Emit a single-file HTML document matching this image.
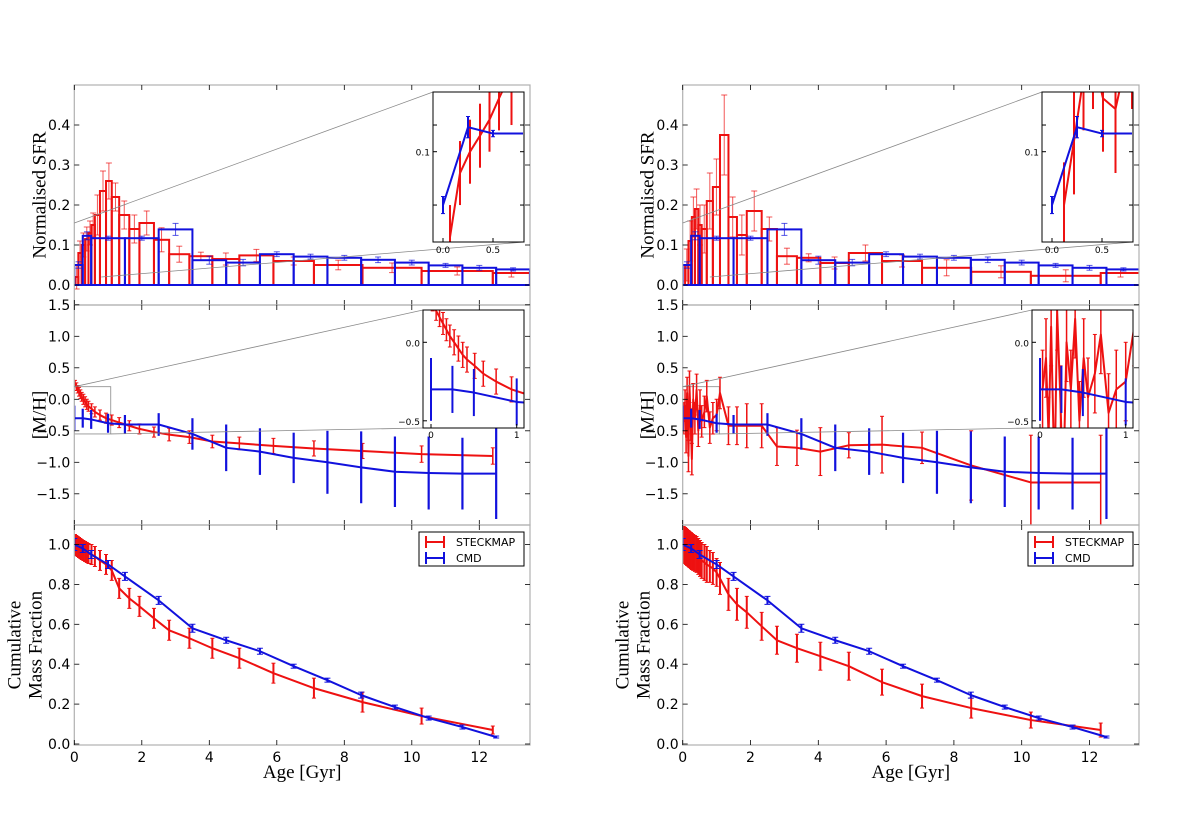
<!DOCTYPE html>
<html><head><meta charset="utf-8"><style>
body{margin:0;background:#fff}
svg{display:block}
text{font-family:"DejaVu Sans","Liberation Sans",sans-serif}
.serif{font-family:"Liberation Serif","DejaVu Serif",serif}
</style></head><body>
<svg id="fig" width="1200" height="829" viewBox="0 0 1200 829" xmlns="http://www.w3.org/2000/svg">
<rect width="1200" height="829" fill="#fff"/>
</svg>
<script>
// ---- shared CMD data ----
const cmdSfrEdges=[0,0.25,0.5,1.5,2.5,3.5,4.5,5.5,6.5,7.5,8.5,9.5,10.5,11.5,12.5,13.5];
const cmdSfrVals=[0.05,0.123,0.117,0.117,0.139,0.062,0.056,0.077,0.071,0.068,0.063,0.056,0.049,0.043,0.039];
const cmdSfrErr=[0.008,0.01,0.005,0.005,0.015,0.01,0.008,0.006,0.006,0.006,0.007,0.006,0.005,0.006,0.004];
const cmdAges=[0,0.25,0.5,1.0,1.5,2.5,3.5,4.5,5.5,6.5,7.5,8.5,9.5,10.5,11.5,12.5];
const cmdMH=[-0.3,-0.3,-0.32,-0.38,-0.4,-0.4,-0.55,-0.77,-0.83,-0.93,-1.0,-1.08,-1.15,-1.17,-1.18,-1.18];
const cmdMHErr=[0.2,0.15,0.15,0.15,0.15,0.18,0.25,0.37,0.37,0.4,0.5,0.57,0.56,0.58,0.57,0.72];
const cmdCum=[1.0,0.98,0.95,0.9,0.84,0.72,0.58,0.52,0.465,0.39,0.32,0.245,0.185,0.13,0.085,0.035];
const cmdCumErr=[0.03,0.02,0.02,0.02,0.02,0.02,0.02,0.015,0.015,0.01,0.01,0.015,0.01,0.01,0.01,0.005];
// ---- left STECKMAP ----
const leftSfrEdges=[0.02,0.12,0.22,0.32,0.42,0.51,0.61,0.76,0.94,1.11,1.33,1.63,1.93,2.36,2.81,3.41,4.09,4.89,5.9,7.1,8.54,10.29,12.4,13.5];
const leftSfrVals=[0.02,0.08,0.1,0.115,0.13,0.15,0.175,0.235,0.26,0.22,0.175,0.14,0.155,0.113,0.077,0.072,0.065,0.074,0.06,0.05,0.043,0.035,0.03];
const leftSfrErr=[0.03,0.03,0.03,0.03,0.03,0.03,0.05,0.05,0.045,0.035,0.035,0.035,0.03,0.03,0.02,0.01,0.015,0.015,0.01,0.012,0.012,0.01,0.01];
const leftAges=[0.02,0.06,0.1,0.14,0.18,0.22,0.27,0.32,0.37,0.42,0.51,0.61,0.76,0.94,1.11,1.33,1.63,1.93,2.36,2.81,3.41,4.09,4.89,5.9,7.1,8.54,10.29,12.4];
const leftMH=[0.25,0.2,0.16,0.12,0.08,0.04,0.0,-0.04,-0.08,-0.11,-0.15,-0.2,-0.25,-0.3,-0.33,-0.37,-0.42,-0.47,-0.52,-0.56,-0.6,-0.67,-0.7,-0.74,-0.78,-0.82,-0.87,-0.9];
const leftMHErr=[0.05,0.06,0.06,0.07,0.07,0.07,0.08,0.08,0.08,0.08,0.08,0.08,0.08,0.08,0.08,0.08,0.08,0.08,0.08,0.1,0.1,0.1,0.1,0.12,0.12,0.12,0.13,0.13];
const leftCum=[1.0,0.995,0.99,0.985,0.98,0.975,0.97,0.965,0.96,0.955,0.95,0.94,0.92,0.9,0.87,0.78,0.73,0.69,0.63,0.57,0.53,0.48,0.43,0.355,0.28,0.21,0.14,0.07];
const leftCumErr=[0.05,0.05,0.05,0.05,0.05,0.05,0.05,0.05,0.05,0.05,0.05,0.05,0.05,0.05,0.05,0.05,0.05,0.05,0.05,0.05,0.05,0.05,0.05,0.05,0.05,0.05,0.04,0.02];
// ---- right STECKMAP ----
const rightSfrEdges=[0.07,0.17,0.27,0.36,0.46,0.56,0.71,0.89,1.10,1.35,1.6,1.89,2.33,2.78,3.37,4.06,4.9,5.88,7.06,8.51,10.27,12.33,13.5];
const rightSfrVals=[0.05,0.11,0.17,0.19,0.15,0.14,0.21,0.245,0.375,0.17,0.125,0.185,0.14,0.072,0.068,0.055,0.08,0.06,0.043,0.033,0.023,0.03];
const rightSfrErr=[0.04,0.05,0.05,0.05,0.05,0.06,0.07,0.07,0.1,0.05,0.05,0.05,0.03,0.02,0.01,0.015,0.02,0.015,0.02,0.015,0.015,0.01];
const rightAges=[0.03,0.07,0.1,0.13,0.17,0.2,0.24,0.27,0.31,0.36,0.41,0.46,0.51,0.56,0.64,0.71,0.8,0.89,1.0,1.1,1.35,1.6,1.89,2.33,2.78,3.37,4.06,4.9,5.88,7.06,8.51,10.27,12.33];
const rightMH=[-0.3,-0.1,-0.6,0.1,-0.9,0.2,-0.4,-0.95,0.0,-0.3,0.15,-0.5,-0.1,-0.35,-0.2,0.05,-0.45,-0.3,-0.25,0.1,-0.42,-0.42,-0.42,-0.42,-0.75,-0.77,-0.83,-0.73,-0.72,-0.77,-1.05,-1.32,-1.32];
const rightMHErr=[0.25,0.25,0.25,0.25,0.25,0.25,0.25,0.25,0.25,0.25,0.25,0.25,0.25,0.25,0.25,0.25,0.25,0.25,0.25,0.25,0.3,0.3,0.35,0.35,0.3,0.28,0.38,0.2,0.45,0.25,0.55,0.75,0.75];
const rightCum=[1.0,0.995,0.99,0.985,0.98,0.975,0.97,0.965,0.96,0.955,0.95,0.94,0.93,0.92,0.91,0.9,0.89,0.88,0.86,0.83,0.75,0.7,0.66,0.59,0.52,0.48,0.44,0.39,0.31,0.24,0.18,0.12,0.07];
const rightCumErr=[0.09,0.09,0.09,0.09,0.09,0.09,0.09,0.09,0.09,0.09,0.09,0.09,0.09,0.09,0.09,0.09,0.08,0.08,0.07,0.08,0.08,0.08,0.08,0.07,0.07,0.07,0.07,0.07,0.065,0.06,0.05,0.04,0.035];

const xTicks=[0,2,4,6,8,10,12];
const sfrTicks=[0,0.1,0.2,0.3,0.4];
const mhTicks=[-1.5,-1.0,-0.5,0.0,0.5,1.0,1.5];
const cumTicks=[0,0.2,0.4,0.6,0.8,1.0];

const NS='http://www.w3.org/2000/svg';
const svg=document.getElementById('fig');
function mk(tag,attrs,parent){const e=document.createElementNS(NS,tag);for(const k in attrs)e.setAttribute(k,attrs[k]);(parent||svg).appendChild(e);return e;}
const RED='#ee1111', BLUE='#1111dd';
function fmt(v,d){let s=v.toFixed(d);return s.replace('-','\u2212');}

function errbars(g,xs,ys,es,X,Y,col,w,cap,op){
  for(let i=0;i<xs.length;i++){
    const x=X(xs[i]);const y1=Y(ys[i]-es[i]),y2=Y(ys[i]+es[i]);
    const l=mk('line',{x1:x,x2:x,y1:y1,y2:y2,stroke:col,'stroke-width':w,opacity:op||1},g);
    
    
    if(cap){mk('line',{x1:x-cap,x2:x+cap,y1:y1,y2:y1,stroke:col,'stroke-width':1,opacity:op||1},g);
    mk('line',{x1:x-cap,x2:x+cap,y1:y2,y2:y2,stroke:col,'stroke-width':1,opacity:op||1},g);}
  }
}
function polyline(g,xs,ys,X,Y,col,w,name){
  const p=mk('polyline',{points:xs.map((a,i)=>X(a)+','+Y(ys[i])).join(' '),fill:'none',stroke:col,'stroke-width':w,'stroke-linejoin':'round'},g);
  
  
}
function bars(g,edges,vals,errs,X,Y,col,w,name){
  for(let i=0;i<vals.length;i++){
    const x1=X(edges[i]),x2=X(edges[i+1]);
    const r=mk('rect',{x:x1,y:Y(vals[i]),width:Math.max(0,x2-x1),height:Y(0)-Y(vals[i]),fill:'none',stroke:col,'stroke-width':w},g);
    
    
    const xc=(x1+x2)/2;
    mk('line',{x1:xc,x2:xc,y1:Y(vals[i]-errs[i]),y2:Y(vals[i]+errs[i]),stroke:col,'stroke-width':1,opacity:0.7},g);
    mk('line',{x1:xc-3,x2:xc+3,y1:Y(vals[i]+errs[i]),y2:Y(vals[i]+errs[i]),stroke:col,'stroke-width':1,opacity:0.7},g);
    mk('line',{x1:xc-3,x2:xc+3,y1:Y(vals[i]-errs[i]),y2:Y(vals[i]-errs[i]),stroke:col,'stroke-width':1,opacity:0.7},g);
  }
}
function axesFrame(g,L,R,T,B,X,xt,Y,yt,yd,showXLabels){
  const f=mk('rect',{x:L,y:T,width:R-L,height:B-T,fill:'none',stroke:'#b0b0b0','stroke-width':1.2},g);
  
  
  xt.forEach(v=>{const x=X(v);mk('line',{x1:x,x2:x,y1:B,y2:B-5,stroke:'#000','stroke-width':0.8},g);mk('line',{x1:x,x2:x,y1:T,y2:T+5,stroke:'#000','stroke-width':0.8},g);
    if(showXLabels){const t=mk('text',{x:x,y:B+17,'font-size':14,'text-anchor':'middle'},g);t.textContent=String(v);
      
      }});
  yt.forEach(v=>{const y=Y(v);mk('line',{x1:L,x2:L+5,y1:y,y2:y,stroke:'#000','stroke-width':0.8},g);mk('line',{x1:R,x2:R-5,y1:y,y2:y,stroke:'#000','stroke-width':0.8},g);
    const t=mk('text',{x:L-4,y:y+5,'font-size':14,'text-anchor':'end'},g);t.textContent=fmt(v,1);
    
    });
}
function ylabel(g,x,y,lines){
  const t=mk('text',{x:0,y:0,'font-size':19,'text-anchor':'middle',transform:`translate(${x},${y}) rotate(-90)`,class:'serif'},g);
  lines.forEach((s,i)=>{const ts=mk('tspan',{x:0,dy:i?21:0},t);ts.textContent=s;});
  
  
}

function panel(side,x0,sx,xR,D){
  const g=mk('g',{});
  
  
  const X=a=>x0+a*sx;
  const clipId='c'+side;
  // ---------- SFR ----------
  const T1=85,B1=305,Ys=v=>285-v*400;
  const gs=mk('g',{},g);
  
  
  const cp=mk('clipPath',{id:clipId+'1'},g);mk('rect',{x:x0,y:T1,width:xR-x0,height:B1-T1},cp);
  const gsd=mk('g',{'clip-path':`url(#${clipId}1)`},gs);
  bars(gsd,D.sfrE,D.sfrV,D.sfrErr,X,Ys,RED,2,'steckmap-sfr-bar');
  bars(gsd,cmdSfrEdges,cmdSfrVals,cmdSfrErr,X,Ys,BLUE,2,'cmd-sfr-bar');
  axesFrame(gs,x0,xR,T1,B1,X,xTicks,Ys,sfrTicks,1,false);
  ylabel(gs,x0-29,(T1+B1)/2,['Normalised SFR']);
  // inset
  const iL=xR-97,iR=xR-6,iT=92,iB=242;
  const IX=a=>iL+10+a*100, IY=v=>151.7-(v-0.1)*1067;
  mk('line',{x1:X(0),y1:Ys(0.155),x2:iL,y2:iT,stroke:'#888','stroke-width':0.8},gs);
  mk('line',{x1:X(0.8),y1:Ys(0.02),x2:iR,y2:iB,stroke:'#888','stroke-width':0.8},gs);
  const ins=mk('g',{},gs);
  
  
  mk('rect',{x:iL,y:iT,width:iR-iL,height:iB-iT,fill:'#fff'},ins);
  const cpi=mk('clipPath',{id:clipId+'i1'},g);mk('rect',{x:iL,y:iT,width:iR-iL,height:iB-iT},cpi);
  const ind=mk('g',{'clip-path':`url(#${clipId}i1)`},ins);
  const rc=D.sfrE.slice(0,-1).map((e,i)=>(e+D.sfrE[i+1])/2);
  polyline(ind,rc,D.sfrV,IX,IY,RED,2,'inset-steckmap-line');
  errbars(ind,rc,D.sfrV,D.sfrErr,IX,IY,RED,2,0);
  const bc=[0,0.25,0.5,0.8];const bv=[cmdSfrVals[0],cmdSfrVals[1],cmdSfrVals[2],cmdSfrVals[2]];
  polyline(ind,bc,bv,IX,IY,BLUE,2,'inset-cmd-line');
  errbars(ind,bc.slice(0,3),bv.slice(0,3),[0.008,0.01,0.003],IX,IY,BLUE,2,2);
  mk('rect',{x:iL,y:iT,width:iR-iL,height:iB-iT,fill:'none',stroke:'#000','stroke-width':1},ins);
  [0.05,0.1,0.125].forEach(v=>{mk('line',{x1:iL,x2:iL+4,y1:IY(v),y2:IY(v),stroke:'#000'},ins);mk('line',{x1:iR,x2:iR-4,y1:IY(v),y2:IY(v),stroke:'#000'},ins);});
  let t=mk('text',{x:iL-3,y:IY(0.1)+4,'font-size':9,'text-anchor':'end'},ins);t.textContent='0.1';
  [0,0.5].forEach(v=>{mk('line',{x1:IX(v),x2:IX(v),y1:iB,y2:iB-4,stroke:'#000'},ins);const tt=mk('text',{x:IX(v),y:iB+11,'font-size':9,'text-anchor':'middle'},ins);tt.textContent=v.toFixed(1);});

  // ---------- MH ----------
  const T2=305,B2=525,Ym=v=>399.3-v*63;
  const gm=mk('g',{},g);
  
  
  const cp2=mk('clipPath',{id:clipId+'2'},g);mk('rect',{x:x0,y:T2,width:xR-x0,height:B2-T2},cp2);
  const gmd=mk('g',{'clip-path':`url(#${clipId}2)`},gm);
  mk('rect',{x:X(0),y:Ym(0.2),width:X(1.08)-X(0),height:Ym(-0.55)-Ym(0.2),fill:'none',stroke:'#888','stroke-width':0.8},gmd);
  polyline(gmd,D.ages,D.mh,X,Ym,RED,2,'steckmap-mh-line');
  errbars(gmd,D.ages,D.mh,D.mhErr,X,Ym,RED,1.5,2);
  polyline(gmd,cmdAges,cmdMH,X,Ym,BLUE,2,'cmd-mh-line');
  errbars(gmd,cmdAges,cmdMH,cmdMHErr,X,Ym,BLUE,2.2,0);
  axesFrame(gm,x0,xR,T2,B2,X,xTicks,Ym,mhTicks,1,false);
  ylabel(gm,x0-29,(T2+B2)/2,['[M/H]']);
  const jL=xR-107,jR=xR-6,jT=310,jB=428;
  const JX=a=>jL+8+a*85.7, JY=v=>342.3-v*157;
  mk('line',{x1:X(0),y1:Ym(0.2),x2:jL,y2:jT,stroke:'#888','stroke-width':0.8},gm);
  mk('line',{x1:X(1.08),y1:Ym(-0.55),x2:jL,y2:jB,stroke:'#888','stroke-width':0.8},gm);
  const ins2=mk('g',{},gm);
  
  
  mk('rect',{x:jL,y:jT,width:jR-jL,height:jB-jT,fill:'#fff'},ins2);
  const cpj=mk('clipPath',{id:clipId+'i2'},g);mk('rect',{x:jL,y:jT,width:jR-jL,height:jB-jT},cpj);
  const jnd=mk('g',{'clip-path':`url(#${clipId}i2)`},ins2);
  polyline(jnd,D.ages,D.mh,JX,JY,RED,2,'inset-steckmap-mh');
  errbars(jnd,D.ages,D.mh,D.mhErr,JX,JY,RED,1.5,2);
  polyline(jnd,cmdAges,cmdMH,JX,JY,BLUE,2,'inset-cmd-mh');
  errbars(jnd,cmdAges,cmdMH,cmdMHErr,JX,JY,BLUE,2,0);
  mk('rect',{x:jL,y:jT,width:jR-jL,height:jB-jT,fill:'none',stroke:'#000','stroke-width':1},ins2);
  [0,-0.5].forEach(v=>{mk('line',{x1:jL,x2:jL+4,y1:JY(v),y2:JY(v),stroke:'#000'},ins2);const tt=mk('text',{x:jL-3,y:JY(v)+4,'font-size':9,'text-anchor':'end'},ins2);tt.textContent=fmt(v,1);});
  [0,1].forEach(v=>{mk('line',{x1:JX(v),x2:JX(v),y1:jB,y2:jB-4,stroke:'#000'},ins2);const tt=mk('text',{x:JX(v),y:jB+10,'font-size':9,'text-anchor':'middle'},ins2);tt.textContent=String(v);});

  // ---------- Cumulative ----------
  const T3=525,B3=745,Yc=v=>744-v*199.5;
  const gc=mk('g',{},g);
  
  
  const cp3=mk('clipPath',{id:clipId+'3'},g);mk('rect',{x:x0,y:T3,width:xR-x0,height:B3-T3},cp3);
  const gcd=mk('g',{'clip-path':`url(#${clipId}3)`},gc);
  polyline(gcd,D.ages,D.cum,X,Yc,RED,2,'steckmap-cumulative-line');
  errbars(gcd,D.ages,D.cum,D.cumErr,X,Yc,RED,2,2);
  polyline(gcd,cmdAges,cmdCum,X,Yc,BLUE,2,'cmd-cumulative-line');
  errbars(gcd,cmdAges,cmdCum,cmdCumErr,X,Yc,BLUE,2,3);
  axesFrame(gc,x0,xR,T3,B3,X,xTicks,Yc,cumTicks,1,true);
  ylabel(gc,x0-54,(T3+B3)/2+10,['Cumulative','Mass Fraction']);
  const xl=mk('text',{x:(x0+xR)/2,y:778,'font-size':19,'text-anchor':'middle',class:'serif'},gc);xl.textContent='Age [Gyr]';
  
  
  // legend
  const lg=mk('g',{},gc);
  
  
  const lL=xR-111,lT=532;
  mk('rect',{x:lL,y:lT,width:105,height:34,fill:'#fff',stroke:'#000','stroke-width':1},lg);
  [['STECKMAP',RED],['CMD',BLUE]].forEach((e,i)=>{
    const y=lT+10+i*16;
    const le=mk('g',{},lg);
    
    
    mk('line',{x1:lL+7,x2:lL+25,y1:y,y2:y,stroke:e[1],'stroke-width':2},le);
    mk('line',{x1:lL+7,x2:lL+7,y1:y-6,y2:y+6,stroke:e[1],'stroke-width':2},le);
    mk('line',{x1:lL+25,x2:lL+25,y1:y-6,y2:y+6,stroke:e[1],'stroke-width':2},le);
    const tt=mk('text',{x:lL+37,y:y+4,'font-size':11},le);tt.textContent=e[0];
  });
}
panel('left',74.3,33.75,530,{sfrE:leftSfrEdges,sfrV:leftSfrVals,sfrErr:leftSfrErr,ages:leftAges,mh:leftMH,mhErr:leftMHErr,cum:leftCum,cumErr:leftCumErr});
panel('right',682.7,33.9,1139,{sfrE:rightSfrEdges,sfrV:rightSfrVals,sfrErr:rightSfrErr,ages:rightAges,mh:rightMH,mhErr:rightMHErr,cum:rightCum,cumErr:rightCumErr});
</script>
</body></html>
